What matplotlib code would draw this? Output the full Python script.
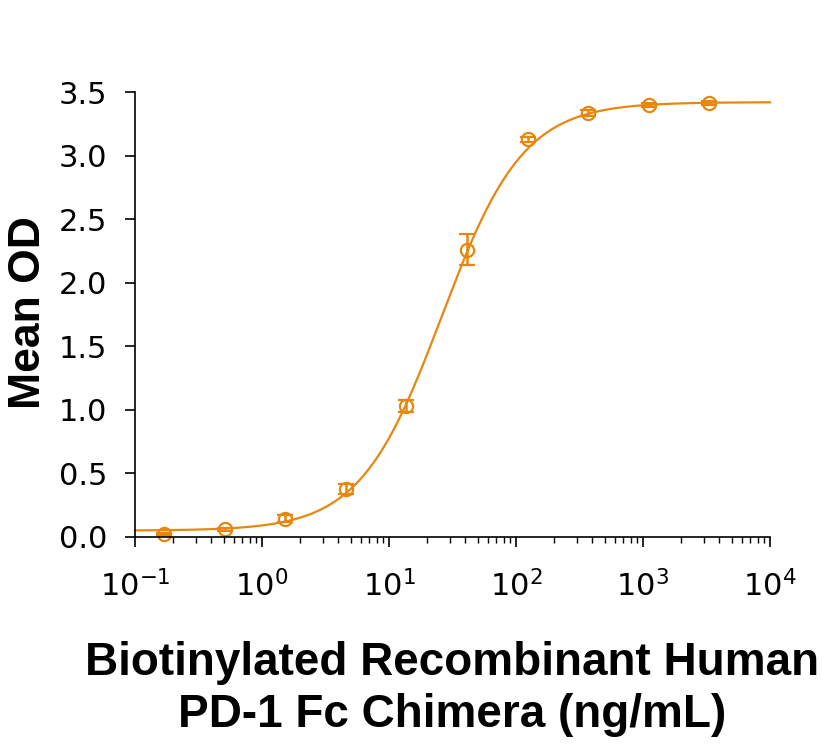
import numpy as np
import matplotlib
matplotlib.use("Agg")
import matplotlib.pyplot as plt
from matplotlib.ticker import LogLocator, FixedLocator, NullFormatter

# Data
conc = [0.169, 0.51, 1.52, 4.57, 13.7, 41.2, 123.5, 370.4, 1111.0, 3333.0]
mean_od = [0.024, 0.06, 0.145, 0.38, 1.03, 2.26, 3.13, 3.335, 3.395, 3.415]
err = [0.01, 0.01, 0.025, 0.04, 0.045, 0.12, 0.02, 0.02, 0.015, 0.015]

# 4PL fit parameters
fit_bottom = 0.05
fit_top = 3.42
fit_ec50 = 26.0
fit_hill = 1.35

yticks = [0.0, 0.5, 1.0, 1.5, 2.0, 2.5, 3.0, 3.5]
xtick_exps = [-1, 0, 1, 2, 3, 4]

color = '#E8870E'
tick_font = ['DejaVu Sans']
label_font = ['Liberation Sans', 'DejaVu Sans']

fig = plt.figure(figsize=(8.22, 7.44), dpi=100)
ax = fig.add_axes([135/822, 1-537/744, (770-135)/822, (537-92)/744])

xs = np.logspace(-1, 4, 400)
ys = fit_bottom + (fit_top - fit_bottom) / (1 + (fit_ec50 / xs) ** fit_hill)
ax.plot(xs, ys, color=color, lw=1.6, clip_on=False)
ax.errorbar(conc, mean_od, yerr=err, fmt='o', mfc='none', mec=color, ecolor=color,
            ms=9.5, mew=1.6, elinewidth=1.8, capsize=6, capthick=1.8, clip_on=False)

ax.set_xscale('log')
ax.set_xlim(0.1, 1e4)
ax.set_ylim(0, 3.5)
for s in ['top', 'right']:
    ax.spines[s].set_visible(False)
for s in ['left', 'bottom']:
    ax.spines[s].set_linewidth(1.2)

ax.xaxis.set_major_locator(FixedLocator([10.0**e for e in xtick_exps]))
ax.set_xticklabels([r'$\mathregular{10^{%d}}$' % e for e in xtick_exps])
ax.xaxis.set_minor_locator(LogLocator(base=10, subs=np.arange(2, 10)))
ax.xaxis.set_minor_formatter(NullFormatter())
ax.set_yticks(yticks)
ax.set_yticklabels(['%.1f' % v for v in yticks])

ax.tick_params(axis='both', which='major', length=7, width=1.2, direction='out',
               labelsize=22)
ax.tick_params(axis='x', which='minor', length=4, width=1.0, direction='out')
ax.tick_params(axis='y', pad=13)
ax.tick_params(axis='x', pad=17)
for lab in ax.get_xticklabels() + ax.get_yticklabels():
    lab.set_family(tick_font)

fig.text(28/822, 1-313/744, 'Mean OD', rotation=90, ha='center', va='center',
         fontsize=32, fontweight='bold', family=label_font)
fig.text(452/822, 1-689/744, 'Biotinylated Recombinant Human\nPD-1 Fc Chimera (ng/mL)',
         ha='center', va='center', fontsize=33, fontweight='bold', family=label_font,
         linespacing=1.25)

fig.savefig('out.png', dpi=100)
